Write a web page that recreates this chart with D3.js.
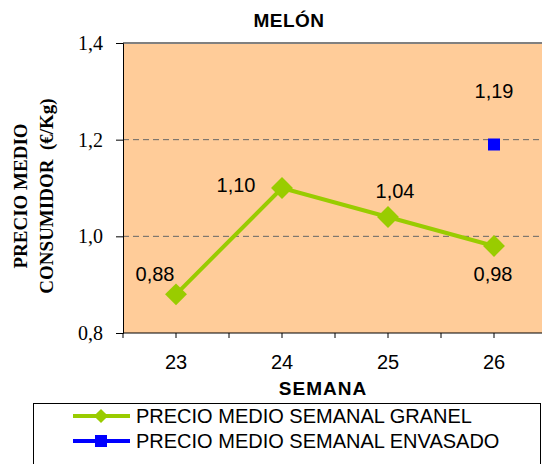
<!DOCTYPE html>
<html><head><meta charset="utf-8">
<script src="https://cdn.jsdelivr.net/npm/d3@7"></script>
<style>body{margin:0;background:#fff}svg{display:block}</style>
</head><body>
<script>
const weeks = ["23","24","25","26"];
const granel = [0.88, 1.10, 1.04, 0.98];
const envasado = [null, null, null, 1.19];
const yTicks = [0.8, 1.0, 1.2, 1.4];
const gridValues = [1.0, 1.2];
const title = "MELÓN";
const xTitle = "SEMANA";
const yTitle = ["PRECIO MEDIO", "CONSUMIDOR  (€/Kg)"];
const seriesNames = ["PRECIO MEDIO SEMANAL GRANEL", "PRECIO MEDIO SEMANAL ENVASADO"];
// label placement offsets (dx, dy from point)
const granelLabelOffsets = [[-21,-13],[-46,4],[7,-19],[-1,35]];
const envasadoLabelOffsets = [null,null,null,[0,-47]];

const W = 542, H = 464;
const svg = d3.select("body").append("svg").attr("width", W).attr("height", H);
const m = {left:123, right:547, top:43, bottom:333};
const fmt = v => v.toFixed(2).replace(".", ",");

const x = d3.scaleBand().domain(weeks).range([m.left, m.right]);
const y = d3.scaleLinear().domain([0.8, 1.4]).range([m.bottom, m.top]);
const cx = d => x(d) + x.bandwidth()/2;

svg.append("rect").attr("x", m.left).attr("y", m.top).attr("width", m.right-m.left).attr("height", m.bottom-m.top).attr("fill", "#FFCC99");

svg.selectAll(".grid").data(gridValues).enter().append("line")
  .attr("x1", m.left).attr("x2", m.right).attr("y1", d=>y(d)).attr("y2", d=>y(d))
  .attr("stroke", "#666").attr("stroke-width", 1).attr("stroke-dasharray", "6,4");
svg.append("line").attr("x1", m.left).attr("x2", m.right).attr("y1", m.top).attr("y2", m.top).attr("stroke", "#808080").attr("stroke-width", 2);

// y axis
const yAxis = d3.axisLeft(y).tickValues(yTicks).tickSize(7).tickPadding(13).tickFormat(d => d.toFixed(1).replace(".", ","));
const gy = svg.append("g").attr("transform", `translate(${m.left},0)`).call(yAxis);
gy.select(".domain").attr("stroke", "#000");
gy.selectAll("text").attr("font-family", "Liberation Serif, Times New Roman, serif").attr("font-size", 20).attr("fill", "#000");

// x axis
const xAxis = d3.axisBottom(x).tickSize(5).tickPadding(17);
const gx = svg.append("g").attr("transform", `translate(0,${m.bottom})`).call(xAxis);
gx.select(".domain").attr("d", `M${m.left},0H${m.right}`).attr("stroke", "#000");
gx.selectAll("text").attr("font-family", "Liberation Sans, Arial, sans-serif").attr("font-size", 20).attr("fill", "#000");
gx.selectAll(".bnd").data(x.domain().concat(["_end"])).enter().append("line").attr("class","bnd")
  .attr("x1", (d,i)=> m.left + i*x.step()).attr("x2", (d,i)=> m.left + i*x.step())
  .attr("y1", 0).attr("y2", 5).attr("stroke", "#000");

// titles
svg.append("text").attr("x", 289).attr("y", 27).attr("text-anchor", "middle")
  .attr("font-family", "Liberation Sans, Arial, sans-serif").attr("font-weight", "bold").attr("font-size", 19).attr("letter-spacing", 0.5).text(title);
svg.append("text").attr("x", 323).attr("y", 395).attr("text-anchor", "middle")
  .attr("font-family", "Liberation Sans, Arial, sans-serif").attr("font-weight", "bold").attr("font-size", 19).attr("letter-spacing", 1).text(xTitle);
yTitle.forEach((t,i) => {
  svg.append("text").attr("transform", `translate(${27 + i*26},196) rotate(-90)`)
    .attr("text-anchor", "middle").style("white-space", "pre")
    .attr("font-family", "Liberation Serif, Times New Roman, serif").attr("font-weight", "bold").attr("font-size", 19)
    .text(t);
});

// granel line
const line = d3.line().defined(d => d.v != null).x(d => cx(d.w)).y(d => y(d.v));
const gData = weeks.map((w,i) => ({w, v: granel[i], o: granelLabelOffsets[i]}));
const eData = weeks.map((w,i) => ({w, v: envasado[i], o: envasadoLabelOffsets[i]})).filter(d => d.v != null);
svg.append("path").datum(gData).attr("d", line).attr("fill", "none").attr("stroke", "#99CC00").attr("stroke-width", 4);
const diamond = d3.symbol().type(d3.symbolSquare).size(240);
svg.selectAll(".gm").data(gData).enter().append("path")
  .attr("d", diamond).attr("transform", d => `translate(${cx(d.w)},${y(d.v)}) rotate(45)`).attr("fill", "#99CC00");
svg.selectAll(".em").data(eData).enter().append("rect")
  .attr("x", d => cx(d.w)-6).attr("y", d => y(d.v)-6).attr("width", 12).attr("height", 12).attr("fill", "#0000FF");

const lab = (data) => svg.selectAll(null).data(data).enter().append("text")
  .attr("x", d => cx(d.w) + d.o[0]).attr("y", d => y(d.v) + d.o[1]).attr("text-anchor", "middle")
  .attr("font-family", "Liberation Sans, Arial, sans-serif").attr("font-size", 20).attr("fill", "#000")
  .text(d => fmt(d.v));
lab(gData); lab(eData);

// legend
svg.append("rect").attr("x", 33.5).attr("y", 403.5).attr("width", 507).attr("height", 80).attr("fill", "#fff").attr("stroke", "#000");
const colors = ["#99CC00", "#0000FF"];
seriesNames.forEach((s,i) => {
  const ly = 416 + i*25;
  svg.append("line").attr("x1", 73).attr("x2", 130).attr("y1", ly).attr("y2", ly).attr("stroke", colors[i]).attr("stroke-width", 4);
  if (i === 0) svg.append("path").attr("d", d3.symbol().type(d3.symbolSquare).size(100)).attr("transform", `translate(101,${ly}) rotate(45)`).attr("fill", colors[i]);
  else svg.append("rect").attr("x", 95).attr("y", ly-6).attr("width", 12).attr("height", 12).attr("fill", colors[i]);
  svg.append("text").attr("x", 136).attr("y", ly + 7).attr("font-family", "Liberation Sans, Arial, sans-serif").attr("font-size", 20).text(s);
});
</script>
</body></html>
